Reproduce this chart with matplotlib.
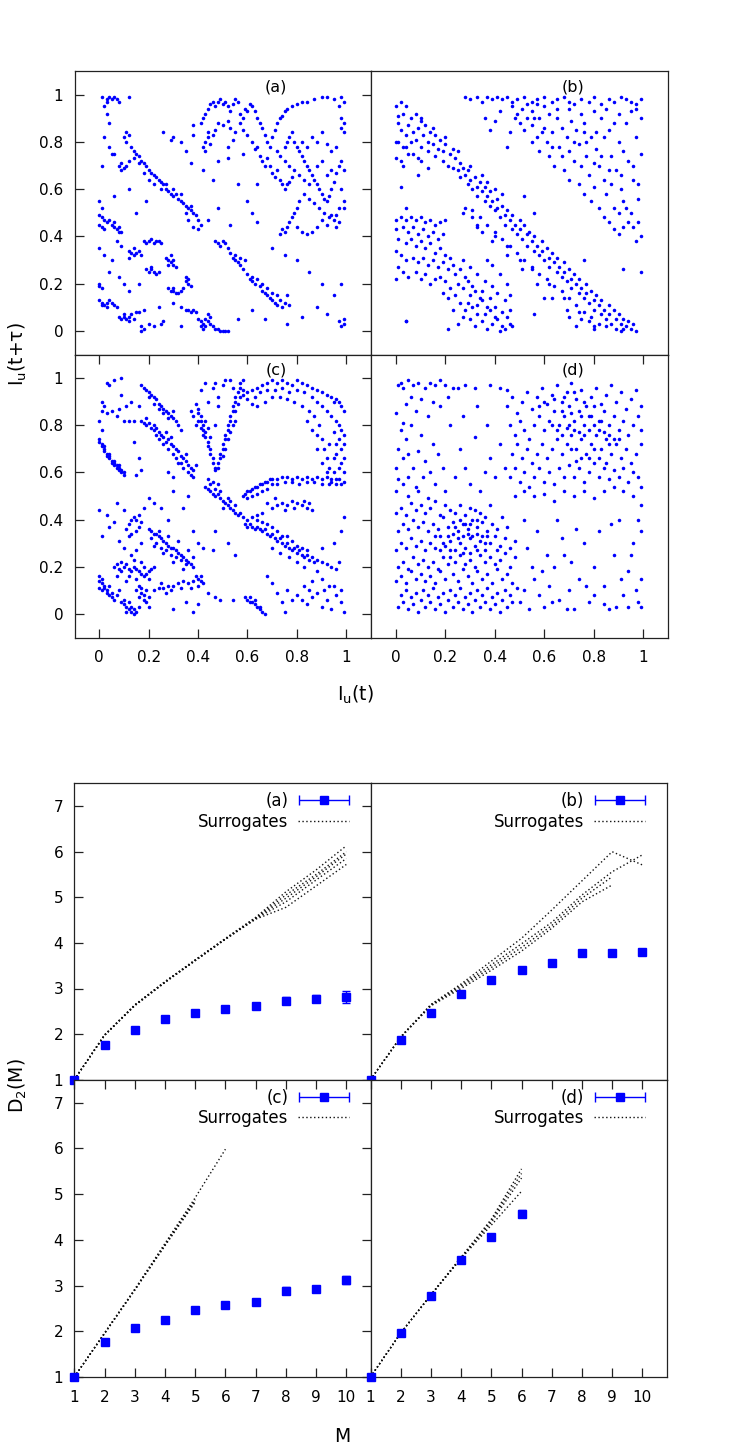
import numpy as np
import matplotlib
matplotlib.use("Agg")
import matplotlib.pyplot as plt
from matplotlib.container import ErrorbarContainer
from matplotlib.legend_handler import HandlerErrorbar
from matplotlib.lines import Line2D

plt.rcParams['font.family'] = ['DejaVu Sans']

# ---- return maps, points (percent of unit range) ----
pts_a = [(1,99),(3,98),(4,99),(5,98),(6,99),(7,98),(8,97),(3,97),(12,99),(2,95),(3,92),(4,88),(2,82),(4,78),(5,75),(6,75),(1,70),
         (10,82),(11,84),(12,83),(11,80),(13,78),(14,76),(15,75),(16,74),(17,72),(18,71),(19,70),(20,68),(21,67),(22,66),(23,65),
         (24,64),(25,63),(26,62),(25,60),(27,60),(28,59),(29,58),(30,57),(31,58),(32,56),(33,55),(34,54),(35,53),(36,52),(37,51),
         (38,50),(39,49),(40,47),(41,45),(40,43),(38,44),(36,47),(35,50),(20,64),(22,62),(18,67),(16,71),(14,73),(27,62),(30,60),
         (33,58),(37,53),(8,70),(9,71),(10,69),(11,70),(9,68),(12,72),
         (0,49),(1,48),(2,47),(3,46),(4,47),(5,45),(6,44),(7,43),(8,42),(1,44),(2,43),(0,45),(1,52),(0,55),(6,46),(8,44),(9,42),
         (0,35),(5,30),(7,38),(9,36),(2,32),
         (12,34),(13,33),(14,32),(15,33),(16,34),(17,32),(14,35),(12,31),(18,38),(19,37),(20,38),(21,39),(22,37),(23,38),(24,38),
         (25,37),(19,26),(20,25),(21,26),(22,25),(23,24),(24,25),(21,27),(27,31),(28,30),(29,29),(30,28),(28,28),(29,32),(30,30),
         (31,27),(28,18),(29,17),(30,17),(31,16),(32,16),(33,17),(34,18),(30,18),(35,21),(36,22),(36,20),(37,19),(35,23),
         (0,13),(1,12),(2,11),(3,12),(4,13),(5,12),(6,11),(7,10),(3,10),(1,11),(0,19),(0,20),(1,18),
         (8,6),(9,5),(10,6),(11,5),(12,6),(13,7),(14,5),(10,7),(12,4),(15,8),(17,2),(18,1),(17,0),(16,8),(18,9),(20,3),(22,2),(25,3),
         (33,10),(35,9),(36,9),(37,8),(38,9),(39,8),
         (40,5),(41,4),(42,3),(43,5),(44,4),(45,6),(42,1),(43,2),(45,3),(46,2),(47,1),(48,1),(49,0),(50,0),(51,0),(52,0),(44,7),(41,2),
         (47,38),(48,37),(49,36),(50,38),(51,37),(52,35),(53,33),(54,31),(55,30),(56,29),(57,28),(58,26),(55,32),(57,31),(59,30),
         (60,24),(61,22),(62,21),(63,20),(62,23),(64,22),(65,19),(66,17),(67,16),(68,15),(69,14),(70,13),(71,12),(72,11),(73,13),
         (74,10),(70,16),(72,15),(68,18),(66,20),(75,12),(76,15),(77,11),
         (41,88),(42,90),(43,92),(44,94),(45,96),(46,97),(47,95),(48,97),(49,98),(50,96),(51,97),(52,95),(53,93),(54,96),(55,98),
         (56,97),(57,92),(58,90),(59,94),(60,93),(61,96),(62,95),(63,93),(64,90),(65,88),(66,86),(67,83),(68,80),(69,78),(70,82),
         (71,85),(72,88),(73,90),(74,91),(75,93),(76,94),(78,95),(80,96),(82,97),(84,97),(87,98),(90,99),(92,99),(95,98),(98,99),
         (43,80),(44,82),(45,79),(46,83),(44,84),(43,76),(42,78),(47,85),(48,88),(50,87),(52,89),(53,86),(55,84),(54,81),(57,88),
         (58,85),(60,83),(62,80),(63,77),(64,78),(65,74),(66,72),(67,70),(68,73),(69,70),(70,67),(71,65),(72,68),(73,64),(74,62),
         (75,60),(76,62),(77,63),(78,65),
         (75,78),(76,80),(77,82),(78,84),(79,80),(80,78),(81,76),(82,74),(83,72),(84,70),(85,68),(86,66),(87,64),(88,62),(89,60),
         (90,58),(91,56),(92,55),(93,57),(94,60),(95,63),(96,67),(97,70),(98,72),(99,68),(98,60),(99,55),(97,52),(96,49),(95,47),
         (93,48),(91,50),(89,52),(87,54),(85,56),(83,58),(81,55),(80,52),(79,50),(78,48),(77,46),(76,44),(75,42),(74,43),(73,41),
         (80,44),(82,42),(84,41),(86,42),(88,44),(90,47),(92,45),(94,49),(96,44),(97,46),(99,52),(99,84),(98,86),(99,88),(98,90),
         (97,95),(99,97),(90,84),(88,80),(86,82),(84,78),(82,80),(92,79),(94,76),(96,78),(90,72),(88,70),(92,66),(94,68),(85,62),
         (83,64),(81,66),(79,68),(77,70),(75,72),(73,74),(72,76),
         (26,84),(30,82),(33,80),(38,83),(29,81),(35,76),(37,71),(48,72),(52,73),(56,62),(60,55),(62,50),(64,46),(48,52),(44,47),
         (53,45),(70,35),(75,32),(80,30),(85,25),(90,20),(95,15),(98,20),(99,5),(99,3),(98,2),(97,4),(92,7),(88,10),(82,6),(76,3),
         (67,5),(62,9),(56,5),(33,2),(26,4),(24,10),(30,12),(16,20),(12,17),(8,23),(4,25),(10,20),(64,62),(58,75),(52,78),(38,87),
         (19,55),(12,60),(6,57),(15,50),(42,68),(46,64)]

pts_b = [(0,95),(1,91),(2,97),(1,88),(3,92),(2,85),(4,95),(5,87),(4,83),(6,90),(7,84),(6,80),(8,92),(9,86),(8,81),(10,89),
         (11,83),(10,78),(12,87),(13,80),(14,84),(13,76),(15,79),(16,83),(16,74),(17,77),(18,81),(19,72),(19,76),(20,79),(21,70),
         (22,75),(23,77),(23,69),(24,73),(25,68),(26,71),(26,65),(27,69),(28,66),(29,62),(29,68),(30,64),(31,60),(32,65),(33,61),
         (33,57),(34,63),(35,59),(36,55),(36,61),(37,57),(38,53),(38,59),(39,55),(40,51),(41,56),(41,52),(42,48),(43,53),(44,49),
         (44,45),(45,51),(46,47),(47,43),(47,49),(48,45),(49,41),(50,47),(50,43),(51,39),(52,45),(53,41),(53,36),(54,42),(55,38),
         (56,34),(56,40),(57,36),(58,32),(59,38),(59,34),(60,30),(61,35),(62,31),(62,27),(63,33),(64,29),(65,25),(65,31),(66,27),
         (67,23),(68,29),(68,25),(69,21),(70,26),(71,22),(71,18),(72,24),(73,20),(74,16),(74,22),(75,18),(76,14),(77,20),(77,16),
         (78,12),(79,17),(80,13),(80,9),(81,15),(82,11),(83,7),(83,13),(84,9),(85,5),(86,11),(86,7),(87,3),(88,9),(89,5),(89,1),
         (90,7),(91,3),(92,5),(92,1),(93,2),(94,4),(95,1),(96,3),(97,0),(91,0),(85,2),(82,3),(79,6),(76,8),(73,11),(70,14),(67,17),
         (64,19),(61,22),(58,24),(55,27),(52,30),(49,33),(46,36),(43,39),(40,42),(37,45),(34,48),(31,51),(1,80),(0,73),(3,70),
         (9,66),(4,78),(7,75),(10,72),(13,69),(27,50),(33,44),(39,38),(45,32),(51,26),(57,20),(63,14),(69,9),(75,5),(80,1),
         (10,90),(15,86),(20,82),(5,75),(9,73),(25,76),(3,78),(0,80),(2,72),(30,70),(35,66),(37,63),(40,60),(43,58),(28,52),(31,48),
         (33,45),(35,42),(40,40),(45,36),(50,30),(55,26),(62,20),(68,14),(74,8),(78,4),(80,2),(70,6),(73,2),
         (0,47),(2,48),(4,47),(6,48),(8,47),(10,48),(12,46),(14,47),(16,45),(18,46),(20,47),(0,43),(3,44),(5,42),(7,44),(9,41),
         (11,43),(13,40),(15,42),(17,39),(19,41),(1,39),(4,37),(6,39),(8,36),(10,38),(12,35),(14,37),(16,33),(18,35),(20,32),(0,34),
         (2,32),(4,30),(7,31),(9,29),(11,31),(13,28),(15,30),(17,27),(19,29),(21,26),(23,28),(22,31),(24,24),(26,26),(28,23),(25,20),
         (27,18),(29,21),(31,19),(30,15),(32,17),(34,14),(33,11),(35,13),(37,10),(36,7),(38,9),(40,6),(39,3),(41,5),(43,2),(42,0),
         (44,1),(46,3),(45,6),(47,2),(40,10),(43,8),(46,9),(35,4),(37,1),(32,2),(30,5),(28,9),(26,12),(24,15),(22,18),(20,21),
         (18,23),(23,9),(21,1),(25,3),(27,6),(33,7),(29,12),(31,10),(35,17),(38,14),(41,16),(44,13),(46,15),(39,19),(36,21),(33,24),
         (30,27),(27,30),(1,27),(3,25),(5,23),(8,25),(10,22),(12,24),(14,20),(16,22),(0,22),(4,4),(21,14),(19,16),(45,20),(42,24),
         (39,28),(37,30),
         (28,99),(30,98),(33,99),(35,97),(37,99),(39,98),(41,99),(43,98),(45,99),(47,97),(49,98),(52,99),(55,97),(57,98),(60,99),
         (63,97),(65,98),(68,99),(70,97),(72,96),(75,98),(78,97),(80,99),(83,96),(86,98),(88,97),(91,99),(93,98),(95,97),(97,96),
         (99,98),(97,94),(47,95),(49,92),(51,94),(53,90),(55,93),(50,88),(52,85),(55,87),(57,82),(58,90),(60,86),(61,80),(63,84),
         (62,92),(65,90),(66,78),(67,86),(69,82),(70,76),(71,89),(72,72),(73,85),(74,79),(75,70),(76,88),(77,74),(78,66),(79,82),
         (80,61),(81,77),(82,70),(83,90),(84,64),(85,58),(86,85),(87,74),(88,52),(89,68),(90,80),(91,60),(92,55),(93,88),(94,72),
         (95,50),(96,64),(97,82),(98,56),(99,75),(96,44),(98,46),(99,40),(97,38),(99,90),(95,93),(90,92),(85,94),(80,93),(75,92),
         (70,94),(65,94),(60,95),(57,96),(53,96),(48,90),(46,84),(45,78),(55,80),(58,76),(62,74),(64,70),(68,68),(70,64),(74,62),
         (76,58),(79,55),(82,52),(84,48),(86,46),(88,43),(90,41),(92,44),(94,46),(93,52),(90,50),(87,62),(83,74),(80,71),(77,80),
         (72,80),(67,74),(63,78),(59,84),(56,90),(84,82),(88,88),(92,76),(96,70),(98,62),(91,66),(86,68),(81,84),(76,84),
         (38,85),(40,89),(42,93),(36,90),(2,61),(4,4),(4,52),(52,57),(56,50),(76,30),(92,26),(99,25),(56,7),(60,14)]

pts_c = [(0,74),(0,73),(1,72),(1,71),(2,70),(2,69),(3,68),(3,67),(4,67),(4,66),(5,65),(5,64),(6,64),(6,63),(7,62),(7,63),
         (8,61),(8,62),(9,60),(9,61),(10,59),(10,60),(2,71),(4,68),(6,65),(8,63),
         (3,98),(4,97),(6,99),(9,100),(1,90),(2,88),(1,86),(3,85),(5,86),(7,84),(8,87),(10,82),(12,82),(14,82),(0,82),(1,78),
         (11,88),(13,90),(16,88),(9,93),(14,73),(16,66),(17,61),(15,59),
         (17,97),(18,96),(19,95),(20,94),(21,93),(22,92),(23,91),(24,89),(25,88),(26,87),(27,86),(28,85),(29,84),(30,83),(31,82),
         (22,89),(24,87),(20,92),(26,85),(28,83),(32,80),(33,78),(30,86),
         (17,82),(18,81),(19,80),(20,81),(21,79),(22,78),(23,79),(24,77),(25,76),(24,74),(26,75),(27,73),(28,74),(29,72),(30,71),
         (31,70),(30,68),(32,69),(33,67),(34,66),(33,64),(35,65),(36,63),(37,62),(36,60),(38,61),(37,59),(38,58),(39,63),(35,68),
         (31,66),(28,70),(26,72),(22,80),(19,83),(23,76),(27,77),(34,62),(32,64),(29,75),
         (39,89),(40,87),(40,85),(41,84),(41,82),(42,80),(42,78),(43,77),(43,75),(44,73),(44,71),(45,70),(45,68),(46,66),(46,64),
         (47,62),(47,61),(40,82),(41,79),(42,76),(39,80),(38,84),(37,86),(43,82),(44,79),(45,75),
         (48,62),(48,64),(49,66),(49,68),(50,70),(50,72),(51,74),(51,76),(52,78),(52,80),(53,82),(53,84),(54,86),(54,88),(55,90),
         (55,92),(56,94),(57,96),(57,98),(58,99),(52,74),(51,70),(53,77),(54,80),(55,86),(56,89),(50,67),(55,82),(57,92),(58,95),
         (50,97),(51,99),(53,99),(54,96),(48,92),(46,96),(47,98),(43,98),(41,95),(44,90),(48,88),(47,80),
         (43,54),(44,53),(45,55),(45,52),(46,51),(47,53),(47,50),(48,51),(49,49),(49,52),(50,48),(51,47),(52,46),(52,49),(53,45),
         (54,44),(55,43),(56,42),(57,43),(55,46),(46,56),(44,57),(48,55),(50,45),(53,48),(58,41),
         (58,93),(60,94),(62,95),(64,96),(66,97),(68,98),(70,99),(72,98),(74,99),(76,98),(78,97),(80,99),(82,98),(84,97),(86,96),
         (88,95),(90,94),(92,93),(94,92),(95,90),(96,91),(97,90),(98,88),(99,86),(60,91),(63,92),(65,94),(68,95),(71,95),(74,96),
         (77,94),(80,95),(83,94),(86,92),(88,90),(90,88),(92,86),(94,84),(96,82),(97,80),(98,78),(99,76),(97,74),(96,72),(99,72),
         (98,70),(96,68),(99,66),(98,64),(97,62),(99,60),(95,60),(94,57),(97,57),(99,56),(93,62),(92,66),(91,70),(90,74),(88,76),
         (89,80),(87,84),(85,86),(82,88),(79,90),(76,91),(73,92),(70,92),(67,90),(64,88),(62,89),(84,82),(86,78),(88,70),(90,64),
         (92,60),(95,66),(93,72),(95,77),
         (58,50),(59,51),(60,52),(61,52),(62,53),(63,54),(64,54),(65,55),(66,55),(67,56),(68,56),(69,57),(70,57),(72,57),(74,58),
         (76,58),(78,57),(80,58),(82,57),(84,58),(86,57),(88,58),(90,57),(92,58),(94,56),(96,55),(98,55),(60,49),(62,50),(64,51),
         (66,52),(68,53),(70,55),(72,55),(75,56),(78,56),(81,55),(84,56),(87,56),(90,55),(93,55),(96,57),
         (70,45),(72,46),(74,47),(76,46),(78,48),(80,47),(82,46),(84,45),(86,44),(75,44),(79,45),(83,48),(71,49),(68,47),(85,47),
         (59,38),(60,37),(61,38),(62,37),(63,36),(64,37),(65,36),(66,35),(67,36),(68,34),(69,33),(70,34),(71,32),(72,31),(73,32),
         (74,30),(75,29),(76,30),(77,28),(78,27),(79,28),(80,26),(81,27),(82,25),(83,24),(84,25),(85,23),(86,24),(87,22),(88,23),
         (90,22),(92,21),(94,20),(96,19),(60,40),(62,41),(64,40),(66,39),(68,38),(70,37),(66,43),(64,42),(72,35),(74,33),(76,33),
         (78,31),(80,29),(82,28),(84,27),(77,24),(80,22),(83,20),(73,26),(70,28),(88,18),(90,28),(95,30),(98,35),(97,22),(99,41),
         (20,36),(21,35),(22,34),(23,34),(24,33),(25,32),(26,31),(27,30),(28,29),(29,28),(30,28),(31,27),(32,26),(33,25),(34,24),
         (35,23),(36,22),(37,21),(38,20),(21,32),(23,30),(25,28),(27,27),(29,25),(31,24),(33,23),(35,21),(22,29),(26,26),(30,22),
         (34,19),(24,35),(28,33),(32,31),(36,27),(38,24),
         (6,20),(7,21),(8,19),(9,18),(10,20),(11,21),(12,19),(13,18),(14,20),(15,19),(16,18),(17,17),(18,16),(19,17),(20,18),
         (21,19),(22,20),(9,22),(12,16),(15,15),(18,20),(7,16),(11,14),(14,23),(17,22),(20,15),
         (0,16),(0,14),(1,15),(1,13),(2,12),(2,11),(3,10),(3,9),(4,8),(5,7),(6,6),(5,9),(1,10),(0,11),(4,12),(7,8),(8,10),
         (9,5),(10,4),(11,3),(12,2),(13,1),(14,0),(15,1),(10,6),(12,5),(13,3),(14,2),(11,1),(16,3),
         (16,12),(17,11),(17,9),(18,8),(18,6),(19,5),(19,10),(20,7),(16,7),(20,3),(15,10),
         (22,10),(24,11),(26,11),(28,12),(30,12),(32,13),(34,14),(36,13),(38,14),(40,15),(41,14),(42,13),(40,12),(41,16),(39,16),
         (25,13),(29,10),(33,11),(37,11),(27,9),
         (11,36),(12,38),(13,40),(14,41),(15,40),(16,42),(17,39),(13,34),(15,35),(16,37),(12,33),(17,30),(15,27),(10,28),(13,25),
         (8,31),(4,37),(6,39),(0,44),(3,42),(1,33),
         (59,7),(60,6),(61,5),(62,5),(63,4),(64,3),(65,2),(66,1),(67,0),(61,7),(63,6),(65,3),
         (75,1),(78,6),(80,8),(82,6),(84,4),(86,7),(88,9),(90,3),(92,6),(94,2),(96,8),(98,5),(99,1),(72,9),(76,10),(74,5),(85,10),
         (95,12),(91,10),(98,10),(47,7),(49,6),(54,6),(44,9),
         (30,52),(25,45),(28,40),(34,45),(36,50),(38,35),(40,30),(42,28),(22,47),(20,49),(18,45),(10,44),(7,47),(28,60),(30,58),
         (35,5),(38,1),(30,2),(40,4),(55,25),(52,30),(46,27),(47,35),(83,12),(86,14),(90,15),(93,12),(70,13),(68,16)]

pts_d = [(1,3),(3,5),(5,2),(7,4),(9,1),(2,8),(4,10),(6,7),(8,9),(10,6),(12,3),(14,5),(16,2),(18,4),(20,1),(11,10),(13,8),
         (15,11),(17,7),(19,9),(21,6),(23,3),(25,5),(27,2),(29,4),(31,1),(22,10),(24,8),(26,11),(28,7),(30,9),(32,6),(34,3),(36,5),
         (38,2),(40,4),(42,1),(33,10),(35,8),(37,11),(39,7),(41,9),(43,6),(45,3),(47,5),(44,10),(46,8),
         (0,14),(2,16),(4,13),(6,18),(8,15),(10,17),(1,20),(3,22),(5,19),(7,24),(9,21),(11,23),(12,14),(14,16),(16,13),(18,18),
         (20,15),(13,20),(15,22),(17,19),(19,24),(21,21),(23,17),(25,14),(27,19),(29,16),(31,13),(33,18),(35,15),(37,17),(39,13),
         (41,19),(43,15),(45,17),(47,13),(49,11),(22,24),(24,22),(26,25),(28,21),(30,23),(32,20),(34,25),(36,22),(38,24),(40,21),
         (42,23),(44,26),(46,20),(48,24),
         (0,27),(2,30),(4,28),(6,32),(8,29),(10,31),(12,27),(14,30),(16,28),(18,33),(20,29),(22,31),(24,27),(26,30),(28,28),
         (30,32),(32,29),(34,31),(36,27),(38,30),(40,33),(42,29),(44,32),(46,28),(48,31),(1,35),(3,38),(5,36),(7,40),(9,37),
         (11,39),(13,35),(15,38),(17,36),(19,41),(21,37),(23,39),(25,35),(27,38),(29,36),(31,40),(33,37),(35,39),(37,35),(39,38),
         (41,36),(43,41),(45,37),(0,43),(2,45),(4,42),(6,47),(8,44),(10,46),(12,43),(14,45),(16,48),(18,42),(20,46),(22,44),
         (24,43),(26,46),(28,42),(30,45),(32,44),(34,43),(36,41),(38,46),(21,33),(23,34),(25,32),(27,33),(29,34),(31,33),(33,34),
         (35,33),(28,38),(30,38),(24,37),(26,40),(33,40),(30,26),(27,26),(33,27),(36,30),(37,33),(22,27),(19,30),(18,27),(16,33),
         (41,27),(5,50),(9,52),(13,49),(3,55),(0,52),
         (0,62),(1,70),(2,78),(0,85),(3,66),(5,58),(4,74),(6,80),(7,62),(8,54),(9,69),(10,76),(11,58),(12,65),(13,84),(14,60),
         (15,72),(16,55),(17,68),(18,88),(19,62),(20,52),(22,80),(24,58),(26,70),(28,62),(30,55),(32,75),(34,52),(36,60),(38,66),
         (40,58),(42,72),(44,62),(37,80),(33,88),(27,84),(21,92),(25,96),
         (1,97),(2,98),(3,96),(5,99),(7,97),(9,98),(12,96),(14,98),(16,97),(18,99),(20,97),(23,96),(28,97),(32,96),(38,97),(42,96),
         (45,95),(6,92),(10,91),(15,90),(4,89),(8,86),(3,81),(1,57),(5,68),
         (45,88),(47,92),(49,85),(51,90),(53,94),(55,87),(57,92),(59,96),(61,89),(63,93),(65,97),(67,90),(69,94),(71,98),(73,91),
         (75,95),(77,88),(79,92),(81,96),(83,89),(85,93),(87,97),(89,90),(91,94),(93,87),(95,91),(97,95),(99,88),(46,80),(48,76),
         (50,82),(52,78),(54,74),(56,80),(58,84),(60,78),(62,82),(64,86),(66,80),(68,84),(70,88),(72,82),(74,86),(76,80),(78,84),
         (80,88),(82,82),(84,86),(86,80),(88,84),(90,78),(92,82),(94,76),(96,80),(98,84),(99,78),(47,68),(49,72),(51,66),(53,70),
         (55,64),(57,68),(59,72),(61,66),(63,70),(65,74),(67,68),(69,72),(71,76),(73,70),(75,74),(77,68),(79,72),(81,76),(83,70),
         (85,74),(87,68),(89,72),(91,66),(93,70),(95,64),(97,68),(99,72),(46,58),(48,62),(50,56),(52,60),(54,54),(56,58),(58,62),
         (60,56),(62,60),(64,55),(66,62),(68,58),(70,63),(72,58),(74,62),(76,56),(78,60),(80,64),(82,58),(84,62),(86,57),(88,61),
         (90,58),(92,62),(94,56),(96,60),(98,58),(99,54),(48,50),(52,52),(56,50),(60,51),(64,48),(68,52),(72,50),(76,52),(80,49),
         (84,52),(88,54),(92,52),(96,50),(99,46),
         (70,80),(72,78),(74,77),(76,76),(78,78),(80,80),(82,78),(84,77),(86,76),(83,82),(79,84),(75,84),(71,85),(67,86),(63,80),
         (65,78),(67,76),(69,79),(71,70),(75,66),(78,66),(82,66),(85,64),(80,70),(73,65),(86,72),(88,74),(90,74),(76,90),(72,94),
         (68,92),(64,91),(60,90),(58,88),
         (50,5),(52,10),(54,2),(56,15),(58,8),(60,3),(62,12),(64,20),(66,6),(68,25),(70,10),(72,2),(74,15),(76,30),(78,5),(80,20),
         (82,35),(84,12),(86,2),(88,25),(90,40),(92,8),(94,18),(96,30),(98,5),(99,15),(97,10),(95,25),(99,35),(98,40),(53,28),
         (57,35),(61,25),(65,40),(52,40),(55,20),(59,18),(73,36),(67,32),(71,22),(80,8),(84,4),(89,3),(94,3),(99,3),(63,5),(69,2),
         (77,12),(91,15),(87,38)]

# ---- correlation dimension vs embedding dimension ----
M = [1, 2, 3, 4, 5, 6, 7, 8, 9, 10]

d2_a = [1.0, 1.76, 2.09, 2.34, 2.46, 2.55, 2.62, 2.73, 2.78, 2.81]
err_a = [0.02, 0.04, 0.04, 0.05, 0.05, 0.05, 0.05, 0.08, 0.08, 0.13]
d2_b = [1.0, 1.88, 2.46, 2.88, 3.18, 3.41, 3.57, 3.77, 3.77, 3.81]
err_b = [0.02, 0.04, 0.05, 0.05, 0.05, 0.05, 0.04, 0.05, 0.05, 0.05]
d2_c = [1.0, 1.77, 2.07, 2.25, 2.46, 2.58, 2.65, 2.89, 2.92, 3.12]
err_c = [0.02, 0.04, 0.04, 0.04, 0.05, 0.05, 0.06, 0.07, 0.07, 0.09]
d2_d = [1.0, 1.96, 2.77, 3.56, 4.07, 4.57]
err_d = [0.02, 0.04, 0.05, 0.05, 0.05, 0.08]

surr_a = [[1, 1.98, 2.64, 3.15, 3.63, 4.10, 4.56, 5.12, 5.60, 6.13],
          [1, 1.98, 2.64, 3.15, 3.62, 4.09, 4.55, 5.05, 5.50, 6.00],
          [1, 1.98, 2.63, 3.14, 3.62, 4.09, 4.54, 4.98, 5.45, 5.95],
          [1, 1.97, 2.63, 3.14, 3.61, 4.08, 4.53, 4.90, 5.38, 5.85],
          [1, 1.97, 2.62, 3.13, 3.61, 4.08, 4.52, 4.78, 5.25, 5.72]]
surr_b = [[1, 1.94, 2.65, 3.10, 3.60, 4.10, 4.72, 5.36, 6.00, 5.71],
          [1, 1.94, 2.64, 3.07, 3.52, 3.98, 4.45, 5.05, 5.56, 5.93],
          [1, 1.93, 2.63, 3.04, 3.46, 3.90, 4.38, 4.98, 5.45],
          [1, 1.93, 2.62, 3.00, 3.40, 3.82, 4.32, 4.90, 5.27]]
surr_c = [[1, 1.96, 2.92, 3.92, 4.92, 5.98],
          [1, 1.96, 2.91, 3.90, 4.88],
          [1, 1.95, 2.90, 3.88, 4.85],
          [1, 1.95, 2.90, 3.87, 4.82]]
surr_d = [[1, 1.96, 2.80, 3.62, 4.45, 5.55],
          [1, 1.96, 2.80, 3.61, 4.42, 5.45],
          [1, 1.96, 2.79, 3.60, 4.38, 5.35],
          [1, 1.96, 2.79, 3.59, 4.32, 5.06]]

panel_tags = ['(a)', '(b)', '(c)', '(d)']
unit_ticks = [0, 0.2, 0.4, 0.6, 0.8, 1]
unit_labels = ['0', '0.2', '0.4', '0.6', '0.8', '1']

W, H = 743, 1451
fig = plt.figure(figsize=(W / 100, H / 100), dpi=100)


def box(l, t, r, b):
    return [l / W, 1 - b / H, (r - l) / W, (b - t) / H]


def style(ax, col, row):
    for s in ax.spines.values():
        s.set_linewidth(0.9)
        s.set_color('#222222')
    ax.tick_params(direction='in', length=6.5, width=0.9, labelsize=11, color='#222222',
                   left=(col == 0), right=(col == 0), top=(row == 1), bottom=(row == 1),
                   labelleft=(col == 0), labelbottom=(row == 1))
    ax.tick_params(axis='x', pad=9)
    ax.tick_params(axis='y', pad=8)


blue = '#0000ff'

# return maps
cols_top = [(74.5, 371), (371, 668)]
rows_top = [(71, 354.5), (354.5, 637.5)]
for i, pts in enumerate([pts_a, pts_b, pts_c, pts_d]):
    r, c = divmod(i, 2)
    ax = fig.add_axes(box(cols_top[c][0], rows_top[r][0], cols_top[c][1], rows_top[r][1]))
    xy = np.array(pts, dtype=float) / 100.0
    ax.scatter(xy[:, 0], xy[:, 1], s=6.5, c=blue, marker='o', linewidths=0)
    ax.set_xlim(-0.1, 1.1)
    ax.set_ylim(-0.1, 1.1)
    ax.set_xticks(unit_ticks)
    ax.set_xticklabels(unit_labels)
    ax.set_yticks(unit_ticks)
    ax.set_yticklabels(unit_labels)
    style(ax, c, r)
    ax.text(0.68, 0.945, panel_tags[i], transform=ax.transAxes, ha='center', va='center', fontsize=11.5)

# D2(M)
cols_bot = [(74.3, 370.5), (370.5, 666.5)]
rows_bot = [(783.3, 1079.7), (1079.7, 1377)]
d2_sets = [(d2_a, err_a, surr_a), (d2_b, err_b, surr_b), (d2_c, err_c, surr_c), (d2_d, err_d, surr_d)]
for i, (d2, err, surr) in enumerate(d2_sets):
    r, c = divmod(i, 2)
    ax = fig.add_axes(box(cols_bot[c][0], rows_bot[r][0], cols_bot[c][1], rows_bot[r][1]))
    for s in surr:
        ax.plot(M[:len(s)], s, color='#111111', lw=1.0, ls=(0, (1, 1.8)))
    eb = ax.errorbar(M[:len(d2)], d2, yerr=err, fmt='s', color=blue, ms=5.5,
                     capsize=3, elinewidth=1, capthick=1)
    eb[0].set_clip_on(False)
    eb[0].set_zorder(5)
    proxy = ax.errorbar([np.nan], [np.nan], xerr=[1], fmt='s', color=blue, ms=5.5,
                        capsize=3.5, elinewidth=1, capthick=1)
    sproxy = Line2D([], [], color='#111111', lw=1.0, ls=(0, (1, 1.8)))
    ax.legend([proxy, sproxy], [panel_tags[i], 'Surrogates'], loc='upper right',
              bbox_to_anchor=(1 - 21.5 / 296, 1 - 9.0 / 297), borderaxespad=0, borderpad=0,
              frameon=False, markerfirst=False, fontsize=12, handlelength=3.05,
              handletextpad=0.6, labelspacing=0.15,
              handler_map={ErrorbarContainer: HandlerErrorbar(xerr_size=1.5)})
    ax.set_xlim(1, 10.8)
    ax.set_ylim(1, 7.5)
    ax.set_xticks(M)
    ax.set_yticks([1, 2, 3, 4, 5, 6, 7])
    style(ax, c, r)

fig.text(18 / W, 1 - 354 / H, r'I$_\mathregular{u}$(t+τ)', rotation=90, ha='center', va='center', fontsize=13.5)
fig.text(355 / W, 1 - 695 / H, r'I$_\mathregular{u}$(t)', ha='center', va='center', fontsize=13.5)
fig.text(18 / W, 1 - 1086 / H, r'D$_\mathregular{2}$(M)', rotation=90, ha='center', va='center', fontsize=13.5)
fig.text(342 / W, 1 - 1437 / H, 'M', ha='center', va='center', fontsize=13.5)

fig.savefig('out.png', dpi=100)
